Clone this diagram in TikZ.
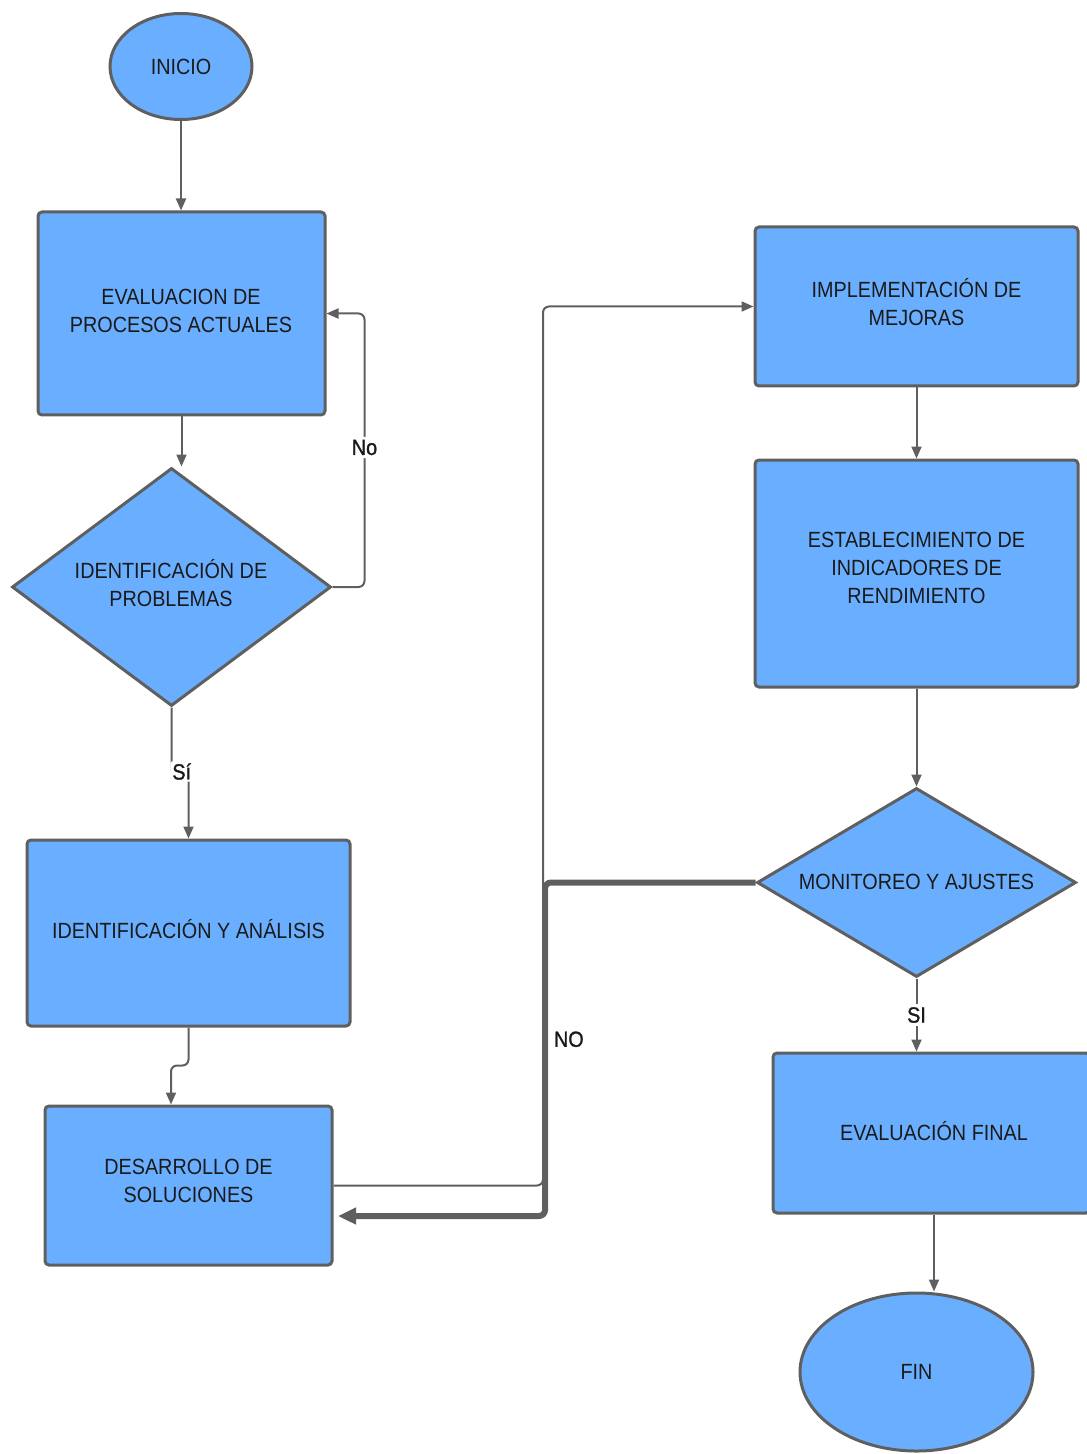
\documentclass[tikz,border=0pt]{standalone}
\usepackage{fontspec}
\setmainfont{Liberation Sans}[FakeStretch=0.9]
\usetikzlibrary{shapes.geometric,arrows.meta,calc}
\definecolor{boxfill}{HTML}{6AAFFF}
\definecolor{edge}{HTML}{5F5F5F}
\definecolor{ink}{HTML}{1A1A1A}
\begin{document}
\begin{tikzpicture}[x=0.5pt,y=-0.5pt,
  every node/.style={font=\fontsize{11}{14}\selectfont, text=ink},
  shp/.style={draw=edge, fill=boxfill, line width=1.5pt, inner sep=0pt},
  proc/.style={shp, rectangle, rounded corners=2pt},
  term/.style={shp, ellipse},
  dec/.style={shp, diamond},
  txt/.style={align=center, inner sep=0pt},
  arr/.style={draw=edge, line width=1pt, -{Triangle[length=6pt,width=5pt]}},
  thick arr/.style={draw=edge, line width=3pt, -{Triangle[length=9pt,width=8pt]}},
  lbl/.style={fill=white, inner sep=1.5pt, font=\fontsize{11}{13}\selectfont\addfontfeature{FakeBold=1.2}, text=ink}
]
\useasboundingbox (0,0) rectangle (1086,1454);
% shapes
\node[term, minimum width=71pt, minimum height=53pt] (ini) at (181,66.5) {INICIO};
\node[proc, minimum width=143.5pt, minimum height=101.5pt] (eval) at (181.5,313.5) {};
\node[txt] at (181,311) {EVALUACION DE\\PROCESOS ACTUALES};
\node[dec, minimum width=159.5pt, minimum height=119pt] (d1) at (171.5,587) {};
\node[txt] at (171,583) {IDENTIFICACIÓN DE\\PROBLEMAS};
\node[proc, minimum width=161.5pt, minimum height=93pt] (ida) at (188.5,933) {};
\node[txt] at (188.5,929) {IDENTIFICACIÓN Y ANÁLISIS};
\node[proc, minimum width=143.5pt, minimum height=79.5pt] (des) at (188.5,1185.5) {};
\node[txt] at (188.5,1181) {DESARROLLO DE\\SOLUCIONES};
\node[proc, minimum width=161.5pt, minimum height=79.5pt] (imp) at (916.5,306.5) {};
\node[txt] at (916.5,302) {IMPLEMENTACIÓN DE\\MEJORAS};
\node[proc, minimum width=161.5pt, minimum height=113.5pt] (est) at (916.5,573.5) {};
\node[txt] at (916.5,568) {ESTABLECIMIENTO DE\\INDICADORES DE\\RENDIMIENTO};
\node[dec, minimum width=159.5pt, minimum height=94.5pt] (mon) at (916.5,882.5) {};
\node[txt] at (916.5,882) {MONITOREO Y AJUSTES};
\node[proc, minimum width=158.5pt, minimum height=80pt] (evf) at (931.5,1133) {};
\node[txt] at (934,1131) {EVALUACIÓN FINAL};
\node[term, minimum width=116.5pt, minimum height=79pt] (fin) at (916.5,1372) {FIN};
% connectors
\draw[arr] (ini.south) -- (ini.south |- eval.north);
\draw[arr] (eval.south) -- (eval.south |- d1.north);
\draw[arr, rounded corners=3pt] (d1.east) -- ++(32,0) |- node[pos=0.255, lbl] {No} (eval.east);
\draw[arr, rounded corners=1pt] (d1.south) -- ++(0,64) -| node[pos=0.3, lbl, inner sep=1pt] {Sí} (ida.north);
\draw[arr, rounded corners=3pt] (ida.south) -- ++(0,38) -| ($(des.north)+(-17.5,0)$);
\coordinate (c1) at (543,1185.5);
\draw[arr, rounded corners=3pt] (des.east) -- (c1) |- (imp.west);
\draw[arr] (imp.south) -- (imp.south |- est.north);
\draw[arr] (est.south) -- (est.south |- mon.north);
\coordinate (c2) at (545,882.5);
\coordinate (c3) at (338,1216);
\draw[thick arr, rounded corners=3pt] (mon.west) -- (c2) -- node[pos=0.47, anchor=west, xshift=3pt, inner sep=0pt, font=\fontsize{11}{13}\selectfont\addfontfeature{FakeBold=1.2}] {NO} (c2 |- c3) -- (c3);
\draw[arr] (mon.south) -- node[lbl] {SI} (mon.south |- evf.north);
\coordinate (e1) at ($(evf.south)+(2.5,0)$);
\draw[arr] (e1) -- (e1 |- fin.north);
\end{tikzpicture}
\end{document}
